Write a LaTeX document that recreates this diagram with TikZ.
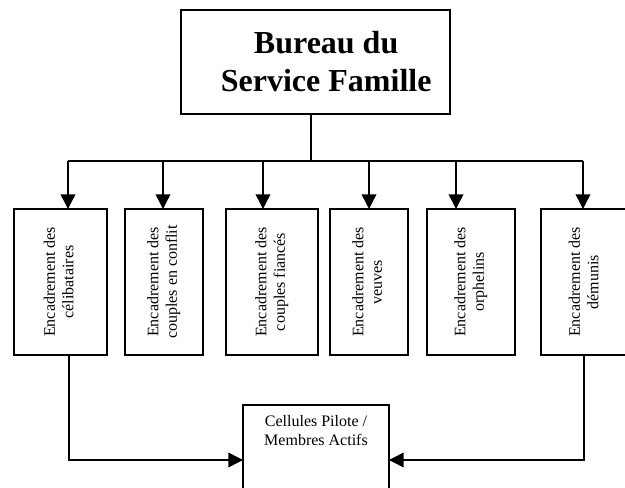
\documentclass[tikz,border=0pt]{standalone}
\usepackage{fontspec}
\setmainfont{Liberation Serif}
\usepackage{graphicx}
\usetikzlibrary{positioning,arrows.meta}

\tikzset{
	box/.style={draw, inner sep=0pt, outer sep=0pt},
	unit/.style={box, minimum height=109.5pt, font=\fontsize{12}{13.8}\selectfont},
}

\begin{document}
\begin{tikzpicture}[x=0.75pt, y=-0.75pt, line width=1.1pt, >={Triangle[length=11pt,width=11pt]}]
	\useasboundingbox (0,0) rectangle (625,488);
	\clip (0,0) rectangle (625,488);
	
	% top box
	\node[box, minimum width=201.75pt, minimum height=78pt] (top) at (315.5,62) {};
	\node[align=center, inner sep=0pt, font=\fontsize{24}{28.5}\selectfont\bfseries] (title) at ([xshift=8pt]top.center) {Bureau du\\Service Famille};
	
	% the six units
	\foreach \n/\x/\w/\l in {b1/60.5/69.75/célibataires, b2/164/58.5/couples en conflit, b3/272/69/couples fiancés, b4/369/58.5/veuves, b5/471/66/orphelins, b6/585.5/66.75/démunis}
		\node[unit, minimum width=\w pt] (\n) at (\x,282) {\rotatebox{90}{\begin{tabular}{@{}c@{}}Encadrement des\\\l\end{tabular}}};
	
	\coordinate (busL) at (68,161);
	\coordinate (busR) at (583,161);
	\coordinate (busM) at (311,161);
	
	\draw (busM |- top.south) -- (busM);
	\draw (busL) -- (busR);
	\foreach \n/\x in {b1/68, b2/163, b3/263, b4/369, b5/456, b6/583}
		\draw[->] (\x,161) -- (\x,161 |- \n.north);
	
	% bottom box
	\node[box, minimum width=109.5pt, minimum height=67.5pt] (cel) at (316,450) {};
	\node[below=7.5pt of cel.north, align=center, inner sep=0pt, font=\fontsize{12}{14}\selectfont] (celtext) {Cellules Pilote /\\Membres Actifs};
	
	\draw[->] (b1.south -| 69,0) |- (cel.west |- 0,460);
	\draw[->] (b6.south -| 584,0) |- (cel.east |- 0,460);
\end{tikzpicture}
\end{document}
